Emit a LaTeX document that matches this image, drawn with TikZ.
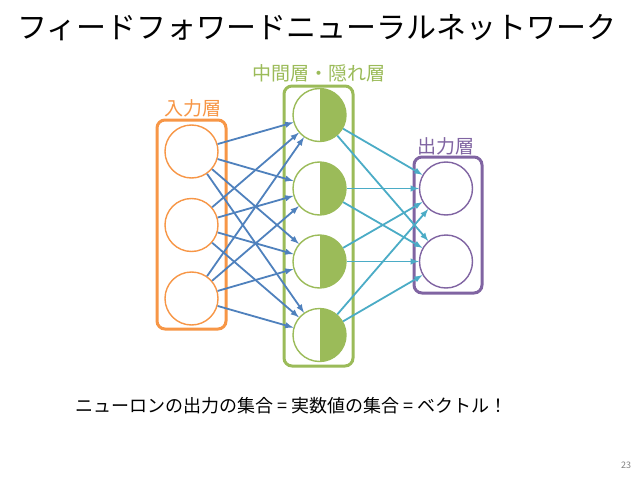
\documentclass[tikz,border=0pt]{standalone}
\usepackage{fontspec}
\setmainfont{Noto Sans CJK JP}
\usetikzlibrary{shapes,positioning,arrows}
\definecolor{inOrange}{HTML}{F79646}
\definecolor{midGreen}{HTML}{9BBB59}
\definecolor{outPurple}{HTML}{8064A2}
\definecolor{arrBlue}{HTML}{4F81BD}
\definecolor{arrAqua}{HTML}{4BACC6}
\tikzstyle{neuron} = [circle, fill=white, minimum size=53pt, inner sep=0pt, line width=1.4pt]
\tikzstyle{hidden} = [neuron, draw=midGreen, path picture={\fill[midGreen] (path picture bounding box.north) rectangle (path picture bounding box.south east);}]
\tikzstyle{layer} = [line width=3pt, rounded corners=8pt]
\tikzstyle{legend} = [font=\fontsize{19}{19}\selectfont, inner sep=0pt]
\tikzstyle{wire} = [-latex, line width=1.8pt]

\begin{document}
\begin{tikzpicture}[x=1pt, y=-1pt]
  \useasboundingbox[fill=white] (0,0) rectangle (638,479);

  \node[font=\fontsize{30}{30}\selectfont, inner sep=0pt] (title) at (317,28) {フィードフォワードニューラルネットワーク};

  % layers
  \draw[layer, inOrange] (157,120) rectangle (226,329);
  \draw[layer, midGreen] (284,86) rectangle (353,366);
  \draw[layer, outPurple] (414,157) rectangle (482,293);
  \node[legend, text=inOrange] (lin) at (193,108) {入力層};
  \node[legend, text=midGreen] (lmid) at (319,73) {中間層・隠れ層};
  \node[legend, text=outPurple] (lout) at (446,146) {出力層};

  % neurons
  \node[neuron, draw=inOrange] (i1) at (191.5,151.5) {};
  \node[neuron, draw=inOrange] (i2) at (191.5,225) {};
  \node[neuron, draw=inOrange] (i3) at (191.5,298.5) {};
  \node[hidden] (h1) at (319.5,115) {};
  \node[hidden] (h2) at (319.5,188.5) {};
  \node[hidden] (h3) at (319.5,261.5) {};
  \node[hidden] (h4) at (319.5,335) {};
  \node[neuron, draw=outPurple] (o1) at (446,188.5) {};
  \node[neuron, draw=outPurple] (o2) at (446,261.5) {};

  \foreach \a in {1,2,3}
    \foreach \b in {1,2,3,4}
      \draw[wire, arrBlue] (i\a) -- (h\b);
  \foreach \a in {1,2,3,4}
    \foreach \b in {1,2}
      \draw[wire, arrAqua] (h\a) -- (o\b);

  \node[font=\fontsize{18}{18}\selectfont, inner sep=0pt, anchor=west] (note) at (75,406) {ニューロンの出力の集合 = 実数値の集合 = ベクトル！};
  \node[font=\fontsize{9}{9}\selectfont, text=gray, inner sep=0pt] (page) at (626,465) {23};
\end{tikzpicture}
\end{document}
